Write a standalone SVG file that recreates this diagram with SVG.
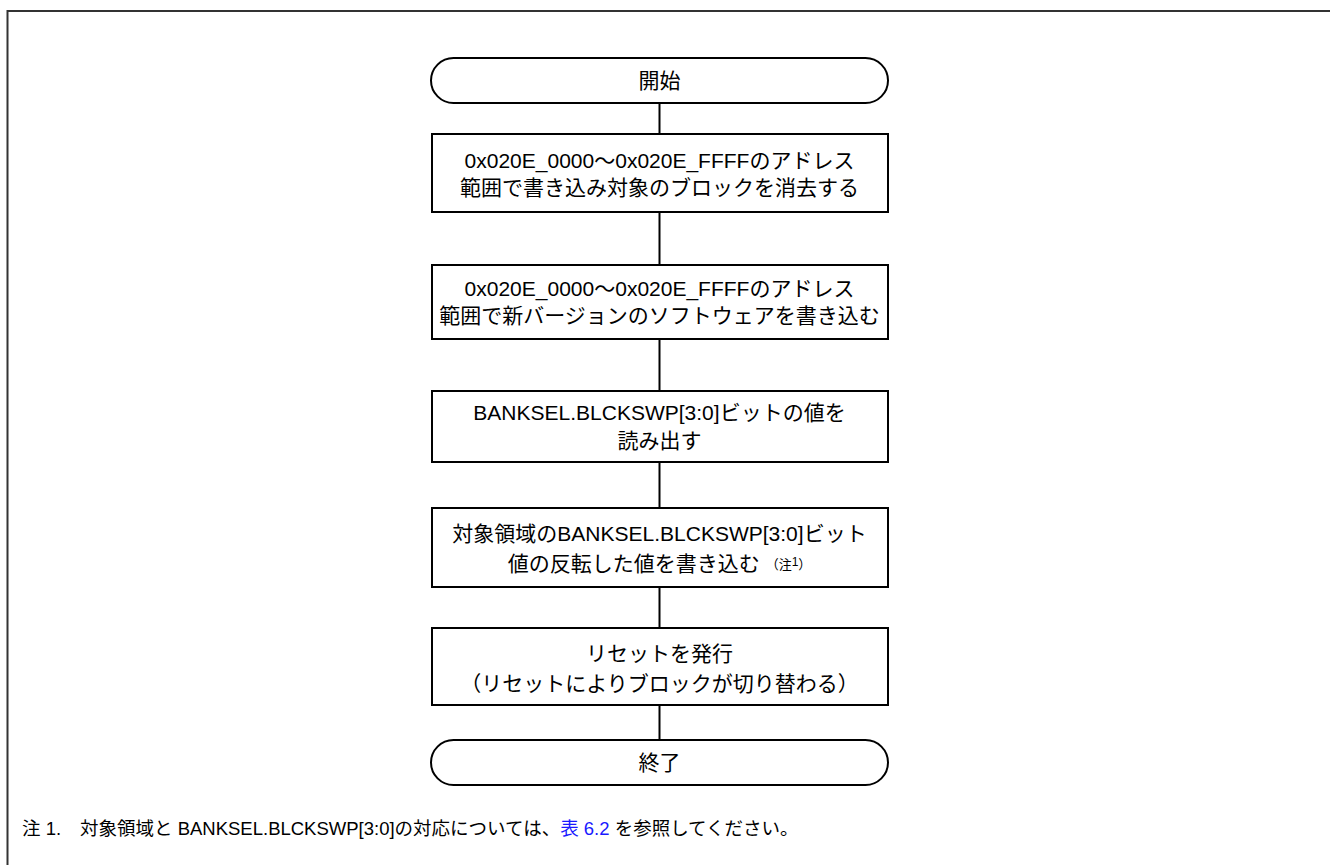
<svg xmlns="http://www.w3.org/2000/svg" width="1330" height="865" viewBox="0 0 1330 865">
<style>
.node{fill:#fff;stroke:#000;stroke-width:2}
.t{font-family:"Liberation Sans","Noto Sans CJK JP",sans-serif;font-size:21px;fill:#000;text-anchor:middle}
.fn{font-family:"Liberation Sans","Noto Sans CJK JP",sans-serif;font-size:18.5px;fill:#000}
.link{fill:#1a1aff}
.conn{stroke:#000;stroke-width:2;fill:none}
</style>
<rect width="1330" height="865" fill="#fff"/>
<path d="M7.5 865 V11 H1330" fill="none" stroke="#333" stroke-width="2"/>
<g id="connectors">
<line class="conn" x1="659.5" y1="103" x2="659.5" y2="134"/>
<line class="conn" x1="659.5" y1="212" x2="659.5" y2="265"/>
<line class="conn" x1="659.5" y1="339" x2="659.5" y2="391"/>
<line class="conn" x1="659.5" y1="462" x2="659.5" y2="508"/>
<line class="conn" x1="659.5" y1="587" x2="659.5" y2="628"/>
<line class="conn" x1="659.5" y1="705" x2="659.5" y2="740"/>
</g>
<g id="start">
<rect class="node" x="431" y="58" width="457" height="45" rx="22.5"/>
<text class="t" x="659.5" y="88">開始</text>
</g>
<g id="erase">
<rect class="node" x="432" y="134" width="456" height="78"/>
<text class="t" x="659.5" y="168">0x020E_0000～0x020E_FFFFのアドレス</text>
<text class="t" x="659.5" y="195">範囲で書き込み対象のブロックを消去する</text>
</g>
<g id="write">
<rect class="node" x="432" y="265" width="456" height="74"/>
<text class="t" x="659.5" y="296">0x020E_0000～0x020E_FFFFのアドレス</text>
<text class="t" x="659.5" y="323">範囲で新バージョンのソフトウェアを書き込む</text>
</g>
<g id="read">
<rect class="node" x="432" y="391" width="456" height="71"/>
<text class="t" x="659.5" y="420">BANKSEL.BLCKSWP[3:0]ビットの値を</text>
<text class="t" x="659.5" y="448">読み出す</text>
</g>
<g id="invert">
<rect class="node" x="432" y="508" width="456" height="79"/>
<text class="t" x="659.5" y="541">対象領域のBANKSEL.BLCKSWP[3:0]ビット</text>
<text class="t" x="659.5" y="571">値の反転した値を書き込む<tspan font-size="13" dx="6" dy="-2">（注</tspan><tspan font-size="12" dy="-3">1</tspan><tspan font-size="13" dy="3">）</tspan></text>
</g>
<g id="reset">
<rect class="node" x="432" y="628" width="456" height="77"/>
<text class="t" x="659.5" y="661">リセットを発行</text>
<text class="t" x="659.5" y="691">（リセットによりブロックが切り替わる）</text>
</g>
<g id="end">
<rect class="node" x="431" y="740" width="457" height="45" rx="22.5"/>
<text class="t" x="659.5" y="770">終了</text>
</g>
<text class="fn" x="22" y="835">注 1.<tspan x="80">対象領域と BANKSEL.BLCKSWP[3:0]の対応については、</tspan><tspan class="link">表 6.2</tspan> を参照してください。</text>
</svg>
